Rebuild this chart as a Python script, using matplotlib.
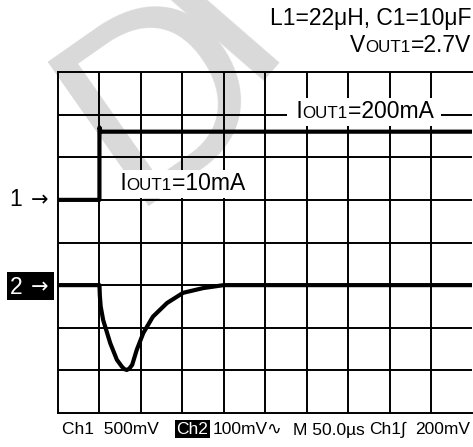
"""Load transient response scope capture: IOUT1 10mA -> 200mA step."""

import matplotlib

matplotlib.use("Agg")
import matplotlib.pyplot as plt
from matplotlib.offsetbox import AnnotationBbox, HPacker, TextArea
from matplotlib.patches import Rectangle

W, H = 473, 447

# scope traces, in screen divisions (10 x 8 graticule)
ch1_t = [0.0, 1.0, 1.0, 1.03, 10.0]
ch1_v = [5.0, 5.0, 6.7, 6.6, 6.6]

ch2_t = [0.0, 1.0, 1.01, 1.03, 1.09, 1.26, 1.42, 1.54, 1.60, 1.66, 1.72,
         1.79, 1.90, 2.06, 2.29, 2.63, 3.02, 3.50, 4.0, 10.0]
ch2_v = [3.0, 3.0, 2.75, 2.5, 2.18, 1.64, 1.25, 1.09, 1.03, 1.01, 1.04,
         1.13, 1.48, 1.88, 2.26, 2.58, 2.82, 2.93, 3.0, 3.0]

status = ["Ch1  500mV", "Ch2", "100mV\u223f", "M 50.0\u00b5s", "Ch1\u222b", "200mV"]

SANS = ["Liberation Sans", "DejaVu Sans"]


def fig_xy(x, y):
    """pixel coords (top-left origin) -> figure fraction"""
    return x / W, 1 - y / H


fig = plt.figure(figsize=(W / 100, H / 100), dpi=100)
left, right = fig_xy(58, 0)[0], fig_xy(472.4, 0)[0]
top, bottom = fig_xy(0, 72)[1], fig_xy(0, 413)[1]
ax = fig.add_axes([left, bottom, right - left, top - bottom])
ax.set_xlim(0, 10)
ax.set_ylim(0, 8)
ax.set_xticks([])
ax.set_yticks([])
ax.spines["right"].set_visible(False)
for s in ("left", "top", "bottom"):
    ax.spines[s].set_linewidth(1.4)
    ax.spines[s].set_zorder(2)

ax.vlines(range(1, 10), 0, 8, color="black", lw=1.4, zorder=1)
ax.hlines(range(1, 8), 0, 10, color="black", lw=1.4, zorder=1)

# watermark
wm = dict(transform=fig.transFigure, clip_on=False, zorder=0, color="#d9d9d9",
          family=SANS, fontsize=185, ha="left", va="baseline", rotation_mode="anchor")
ax.text(*fig_xy(128, 206), "D", rotation=35, **wm)
ax.text(*fig_xy(240, 81), "I", rotation=49, **wm)

ax.plot(ch1_t, ch1_v, color="black", lw=3.0, solid_joinstyle="round", zorder=3)
ax.plot(ch2_t, ch2_v, color="black", lw=3.0, solid_joinstyle="round",
        solid_capstyle="butt", zorder=3)


def label(parts, xy, align, box=True, size=16.5):
    areas = []
    for txt, small in parts:
        areas.append(TextArea(txt, textprops=dict(fontsize=size * 0.74 if small else size,
                                                  family=SANS, color="black")))
    pack = HPacker(children=areas, align="baseline", pad=0, sep=0)
    ab = AnnotationBbox(pack, fig_xy(*xy), xycoords="figure fraction",
                        box_alignment=align, frameon=box, pad=0.2,
                        bboxprops=dict(fc="white", ec="none"), zorder=5)
    ax.add_artist(ab)


label([("L1=22\u03bcH, C1=10\u03bcF", False)], (471, 18), (1, 0.5), box=False)
label([("V", False), ("OUT1", True), ("=2.7V", False)], (471, 45), (1, 0.5), box=False)
label([(" I", False), ("OUT1", True), ("=200mA ", False)], (364, 112), (0.5, 0.5))
label([(" I", False), ("OUT1", True), ("=10mA ", False)], (182, 184), (0.5, 0.5))

# channel markers
fig.text(*fig_xy(22, 200), "1", family=SANS, fontsize=16.5, ha="right", va="center")
fig.text(*fig_xy(48, 200), "\u2192", family="DejaVu Sans", fontsize=15, ha="right", va="center")
fig.add_artist(Rectangle(fig_xy(7, 300), 47 / W, 28 / H, transform=fig.transFigure,
                         fc="black", ec="none"))
fig.text(*fig_xy(22, 287), "2", family=SANS, fontsize=16.5, ha="right", va="center",
         color="white")
fig.text(*fig_xy(48, 287), "\u2192", family="DejaVu Sans", fontsize=15, ha="right",
         va="center", color="white")

# status line
bs = dict(family=SANS, fontsize=12.5, va="center")
fig.add_artist(Rectangle(fig_xy(175, 438), 35 / W, 18 / H, transform=fig.transFigure,
                         fc="black", ec="none"))
fig.text(*fig_xy(62, 430), status[0], ha="left", **bs)
fig.text(*fig_xy(192.5, 430), status[1], ha="center", color="white", **bs)
fig.text(*fig_xy(213, 430), status[2], ha="left", **bs)
fig.text(*fig_xy(293, 430), status[3], ha="left", **bs)
fig.text(*fig_xy(369, 430), status[4], ha="left", **bs)
fig.text(*fig_xy(470, 430), status[5], ha="right", **bs)

fig.savefig("out.png", dpi=100)
